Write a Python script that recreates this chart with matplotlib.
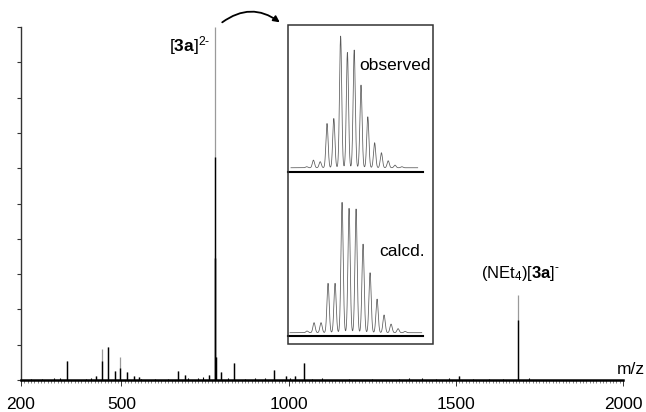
import numpy as np
import matplotlib
matplotlib.use("Agg")
import matplotlib.pyplot as plt
from matplotlib.patches import Rectangle, FancyArrowPatch

plt.rcParams['font.family'] = ['Liberation Sans', 'DejaVu Sans']
plt.rcParams['mathtext.fontset'] = 'custom'
plt.rcParams['mathtext.rm'] = 'Liberation Sans'
plt.rcParams['mathtext.bf'] = 'Liberation Sans:bold'
plt.rcParams['mathtext.it'] = 'Liberation Sans:italic'

W, H = 646, 412

# full spectrum (stick peaks), relative intensity
peak_mz   = [338, 424, 442, 461, 480, 497, 517, 538, 554, 670, 690, 762,
             780, 781, 783, 797, 836, 957, 992, 1019, 1047, 1511, 1687]
peak_int  = [0.054, 0.012, 0.088, 0.094, 0.025, 0.065, 0.022, 0.010, 0.009, 0.025, 0.014, 0.014,
             1.000, 0.345, 0.066, 0.022, 0.047, 0.028, 0.010, 0.010, 0.048, 0.010, 0.241]
peak_core = [0.054, 0.012, 0.054, 0.094, 0.025, 0.035, 0.022, 0.010, 0.009, 0.025, 0.014, 0.014,
             0.632, 0.345, 0.066, 0.022, 0.047, 0.028, 0.010, 0.010, 0.048, 0.010, 0.170]
noise_mz  = [230, 262, 300, 318, 395, 410, 560, 600, 640, 700, 730, 745, 820, 870, 900, 930,
             1005, 1070, 1100, 1180, 1250, 1330, 1360, 1400, 1440, 1480, 1550, 1600, 1640, 1720]
noise_int = [0.004, 0.003, 0.005, 0.006, 0.004, 0.007, 0.004, 0.003, 0.004, 0.005, 0.006, 0.008,
             0.005, 0.004, 0.006, 0.005, 0.007, 0.004, 0.005, 0.004, 0.003, 0.004, 0.006, 0.005,
             0.004, 0.005, 0.004, 0.003, 0.004, 0.005]

# isotope pattern of [3a]2- (relative %)
iso_mz   = [776.5, 777.0, 777.5, 778.0, 778.5, 779.0, 779.5, 780.0,
            780.5, 781.0, 781.5, 782.0, 782.5, 783.0, 783.5]
obs_int  = [0.8, 5.8, 4.6, 33.6, 37.4, 100.0, 87.6, 89.4,
            62.8, 38.7, 19.0, 11.4, 5.3, 2.0, 0.8]
calc_int = [1.3, 7.7, 7.7, 37.9, 37.9, 100.0, 95.4, 94.9,
            68.0, 46.0, 25.8, 13.6, 6.6, 3.1, 1.0]

xticks = [200, 500, 1000, 1500, 2000]


def fx(x):
    return x / W


def fy(y):
    return 1 - y / H


def profile(mz, inten, lo, hi, sigma=0.08):
    x = np.linspace(lo, hi, 1500)
    y = np.zeros_like(x)
    for m, i in zip(mz, inten):
        y += i * np.exp(-(x - m) ** 2 / (2 * sigma ** 2))
    return x, y


fig = plt.figure(figsize=(W / 100, H / 100), dpi=100)

ax = fig.add_axes([fx(21), fy(380), fx(623) - fx(21), fy(27) - fy(380)])
ax.vlines(noise_mz, 0, noise_int, color='black', lw=0.8)
ax.vlines(peak_mz, 0, peak_int, color='#9a9a9a', lw=0.9)
ax.vlines(peak_mz, 0, peak_core, color='black', lw=1.0)
ax.set_xlim(200, 2000)
ax.set_ylim(0, 1)
for s in ['top', 'right']:
    ax.spines[s].set_visible(False)
ax.spines['left'].set_linewidth(1.0)
ax.spines['left'].set_color('#333333')
ax.spines['bottom'].set_linewidth(1.8)
ax.spines['bottom'].set_color('black')
ax.set_yticks(np.arange(0, 1.01, 0.1))
ax.set_yticklabels([])
ax.tick_params(axis='y', direction='out', length=3, width=0.8, color='#333333')
ax.set_xticks(xticks)
ax.set_xticks(np.arange(200, 2001, 10), minor=True)
ax.tick_params(axis='x', which='major', direction='out', length=4, width=0.7,
               color='#333333', labelsize=12.5, pad=8)
ax.tick_params(axis='x', which='minor', direction='out', length=2.5, width=0.5, color='#555555')

# inset frame
fig.patches.append(Rectangle((fx(287.7), fy(344)), fx(433) - fx(287.7), fy(25) - fy(344),
                             transform=fig.transFigure, fill=False, lw=1.1,
                             edgecolor='#333333', zorder=5))

ax1 = fig.add_axes([fx(288), fy(171.7), fx(423) - fx(288), fy(25) - fy(171.7)])
x, y = profile(iso_mz, obs_int, 775.35, 784.67)
ax1.plot(x, y, color='#5a5a5a', lw=0.55)
ax1.set_xlim(775.13, 785.06)
ax1.set_ylim(-3.0, 108.4)

ax2 = fig.add_axes([fx(288), fy(335.7), fx(423) - fx(288), fy(171.7) - fy(335.7)])
x, y = profile(iso_mz, calc_int, 775.28, 784.69)
ax2.plot(x, y, color='#5a5a5a', lw=0.55)
ax2.set_xlim(775.14, 784.78)
ax2.set_ylim(-2.3, 123.5)

for a in (ax1, ax2):
    a.patch.set_visible(False)
    for s in ['top', 'right', 'left']:
        a.spines[s].set_visible(False)
    a.spines['bottom'].set_linewidth(1.5)
    a.spines['bottom'].set_color('black')
    a.set_xticks([])
    a.set_yticks([])

# labels
fig.text(fx(169), fy(51), r'[$\mathbf{3a}$]$^{2\text{-}}$', fontsize=12.5, ha='left', va='baseline')
fig.text(fx(481), fy(278), r'(NEt$_4$)[$\mathbf{3a}$]$^{\text{-}}$', fontsize=12, ha='left', va='baseline')
fig.text(fx(359), fy(70), 'observed', fontsize=12.5, ha='left', va='baseline')
fig.text(fx(379), fy(256), 'calcd.', fontsize=12.5, ha='left', va='baseline')
fig.text(fx(617), fy(374), 'm/z', fontsize=12.5, ha='left', va='baseline')

arrow = FancyArrowPatch((fx(220), fy(24)), (fx(282), fy(24)), transform=fig.transFigure,
                        connectionstyle='arc3,rad=-0.39', arrowstyle='-|>',
                        mutation_scale=9, lw=1.3, color='black')
fig.patches.append(arrow)

fig.savefig('out.png', dpi=100)
